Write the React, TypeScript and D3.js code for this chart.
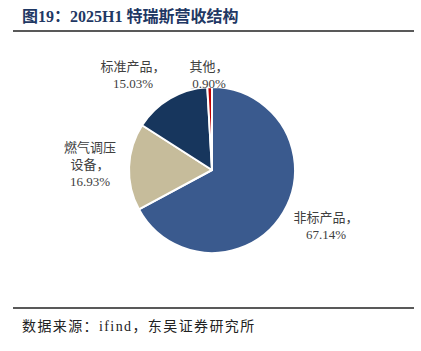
import * as d3 from "d3";

// Revenue mix, 2025H1 (percent)
const categories = ["非标产品", "燃气调压设备", "标准产品", "其他"];
const shares = [67.14, 16.93, 15.03, 0.9];
const sliceColors = ["#3A5A8E", "#C6BC9B", "#17365D", "#C00000"];

const TITLE = "图19：2025H1 特瑞斯营收结构";
const SOURCE = "数据来源：ifind，东吴证券研究所";

const W = 421;
const H = 351;
const CX = 212;
const CY = 170;
const R = 83;
const FONT = "'Liberation Serif','Noto Sans CJK SC',serif";
const LABEL_FILL = "#404040";

// label line breaks + anchor points (placement only)
const labelLines = [
  ["非标产品，", "67.14%"],
  ["燃气调压", "设备，", "16.93%"],
  ["标准产品，", "15.03%"],
  ["其他，", "0.90%"],
];
const labelPos = [
  { x: 326, y: 222 },
  { x: 90, y: 152 },
  { x: 133, y: 71 },
  { x: 209, y: 71 },
];

export default function App() {
  const pie = d3
    .pie<number>()
    .sort(null)
    .value((d) => d);
  const arcs = pie(shares);
  const arcGen = d3.arc<d3.PieArcDatum<number>>().innerRadius(0).outerRadius(R);

  return (
    <svg
      width={W}
      height={H}
      style={{ position: "absolute", left: 0, top: 0, background: "#fff" }}
    >
      <text x={22} y={22} fontSize={16} fontWeight={700} fontFamily={FONT} fill="#1F3864">
        {TITLE}
      </text>
      <line x1={13} x2={414} y1={31} y2={31} stroke="#222" strokeWidth={1.6} />

      <g transform={`translate(${CX},${CY})`}>
        {arcs.map((a, i) => (
          <path
            key={categories[i]}
            d={arcGen(a) ?? ""}
            fill={sliceColors[i]}
            stroke="#fff"
            strokeWidth={2}
            strokeLinejoin="round"
          />
        ))}
      </g>

      {labelLines.map((lines, i) => (
        <text
          key={categories[i]}
          x={labelPos[i].x}
          y={labelPos[i].y}
          textAnchor="middle"
          fontSize={13}
          fontFamily={FONT}
          fill={LABEL_FILL}
        >
          {lines.map((l, j) => (
            <tspan key={j} x={labelPos[i].x} dy={j === 0 ? 0 : 17}>
              {l}
            </tspan>
          ))}
        </text>
      ))}

      <line x1={13} x2={414} y1={308} y2={308} stroke="#222" strokeWidth={1.6} />
      <text x={22} y={331} fontSize={14} letterSpacing={1.4} fontFamily={FONT} fill="#222">
        {SOURCE}
      </text>
    </svg>
  );
}
